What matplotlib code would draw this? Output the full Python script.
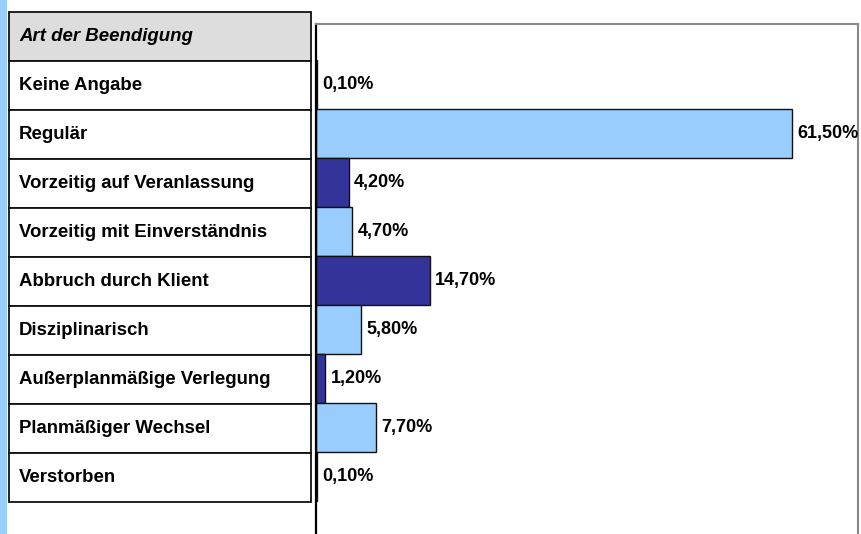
import matplotlib
matplotlib.use("Agg")
import matplotlib.pyplot as plt
import matplotlib.patches as mpatches

plt.rcParams['font.family'] = ['Liberation Sans', 'DejaVu Sans']

# data
header = 'Art der Beendigung'
categories = ['Keine Angabe', 'Regulär', 'Vorzeitig auf Veranlassung',
              'Vorzeitig mit Einverständnis', 'Abbruch durch Klient',
              'Disziplinarisch', 'Außerplanmäßige Verlegung',
              'Planmäßiger Wechsel', 'Verstorben']
values = [0.1, 61.5, 4.2, 4.7, 14.7, 5.8, 1.2, 7.7, 0.1]
value_labels = ['0,10%', '61,50%', '4,20%', '4,70%', '14,70%',
                '5,80%', '1,20%', '7,70%', '0,10%']

light = '#99CCFF'
dark = '#333399'

W, H = 861, 534
fig = plt.figure(figsize=(W / 100, H / 100), dpi=100)

# blue strip on the left edge
strip = fig.add_axes([0, 0, 7 / W, 1])
strip.set_facecolor(light)
strip.set_xticks([])
strip.set_yticks([])
for s in strip.spines.values():
    s.set_visible(False)

# table with the category names
tab = fig.add_axes([9 / W, 1 - 502 / H, (311 - 9) / W, (502 - 12) / H])
tab.set_xlim(0, 1)
tab.set_ylim(len(categories) + 1, 0)
tab.axis('off')
rows = [header] + categories
for i, name in enumerate(rows):
    fc = '#DDDDDD' if i == 0 else 'white'
    tab.add_patch(mpatches.Rectangle((0, i), 1, 1, facecolor=fc,
                                     edgecolor='#111111', linewidth=1.3,
                                     clip_on=False))
    tab.text(10 / 302, i + 0.5, name, ha='left', va='center', fontsize=13.4,
             weight='bold', style='italic' if i == 0 else 'normal')

# bar chart
ax = fig.add_axes([316 / W, 0, 542 / W, (H - 23.5) / H])
ypos = list(range(len(categories)))
colors = [dark if i % 2 == 0 else light for i in ypos]
ax.barh(ypos, values, height=1.0, color=colors, edgecolor='#111111',
        linewidth=1.0)
for y, v, lab in zip(ypos, values, value_labels):
    ax.annotate(lab, (v, y), xytext=(3.8, 0), textcoords='offset points',
                ha='left', va='center', fontsize=13, weight='bold')

ax.set_xlim(0, 70)
ax.set_ylim(9.18, -1.235)
ax.set_xticks([])
ax.set_yticks([])
ax.spines['bottom'].set_visible(False)
ax.spines['left'].set_color('black')
ax.spines['left'].set_linewidth(1.6)
for side in ['top', 'right']:
    ax.spines[side].set_color('#888888')
    ax.spines[side].set_linewidth(1.5)

fig.savefig('out.png', dpi=100)
